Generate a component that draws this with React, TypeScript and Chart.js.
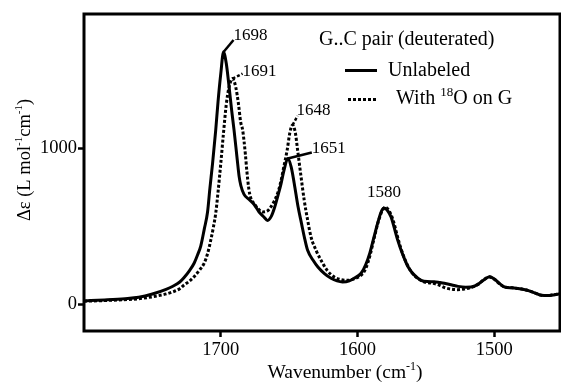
import React, { useEffect, useRef } from "react";
import { Chart, registerables } from "chart.js";

Chart.register(...registerables);

// ---- Data ----
const unlabeledWavenumber = [
  1800, 1785, 1770, 1760, 1750, 1740, 1735, 1730, 1726.8, 1723, 1719.5, 1717, 1714.6, 1712, 1709.7, 1708,
  1706, 1703.7, 1702, 1700, 1698, 1696, 1694, 1692, 1690.3, 1688, 1686.6, 1685.3, 1683, 1679.3, 1675.6, 1672,
  1668.5, 1665.8, 1663, 1660.5, 1658.5, 1656, 1653.8, 1651, 1648.5, 1646.3, 1643.5, 1641, 1638.5, 1636.5,
  1632.5, 1629, 1624, 1619.4, 1615, 1611, 1606, 1602.5, 1597.4, 1594, 1591, 1588, 1585, 1582.5, 1580.6,
  1578, 1575.5, 1573, 1570.6, 1567, 1563, 1559, 1553.5, 1549, 1544, 1540, 1536.6, 1531, 1526.6, 1521,
  1516.8, 1512, 1508, 1503.4, 1500, 1496, 1492.5, 1487, 1481.5, 1476, 1471, 1465.6, 1461, 1456, 1451, 1450,
];
const unlabeledValues = [
  22, 28, 36, 45, 66, 96, 116, 143, 172, 215, 263, 316, 375, 485, 590, 740,
  904, 1117, 1300, 1479, 1617, 1545, 1400, 1240, 1117, 930, 820, 760, 705, 672, 640, 592,
  560, 538, 565, 625, 688, 770, 859, 935, 880, 775, 625, 519, 415, 346,
  282, 239, 195, 167, 150, 143, 150, 167, 199, 255, 330, 431, 530, 598, 618,
  600, 560, 485, 410, 320, 239, 192, 154, 146, 145, 140, 135, 124, 115, 110,
  111, 128, 155, 176, 162, 132, 111, 106, 100, 90, 75, 58, 56, 62, 69, 70,
];

const labeledWavenumber = [
  1800, 1780, 1760, 1742, 1735, 1730, 1726.8, 1723, 1719.5, 1716, 1712.2, 1709.5, 1707.3, 1705.5, 1703.7,
  1702, 1700, 1698, 1696, 1694, 1691.4, 1689, 1687, 1685.5, 1684, 1682, 1681, 1679.5, 1678, 1675.5, 1673,
  1669.5, 1666, 1663.4, 1661, 1658.5, 1656, 1654, 1651.5, 1649.5, 1647.5, 1645.5, 1643.8, 1641.5, 1639,
  1636.5, 1634, 1630, 1626.7, 1622, 1617, 1612, 1607, 1602, 1597.4, 1594, 1591, 1588, 1585, 1582, 1579.5,
  1577, 1574, 1571, 1568, 1564, 1560, 1555, 1550, 1545, 1540, 1536, 1531, 1527, 1522, 1517, 1512, 1508,
  1504, 1500, 1496, 1492.5, 1487, 1481.5, 1476, 1471, 1465.6, 1461, 1456, 1451, 1450,
];
const labeledValues = [
  20, 26, 36, 62, 80, 100, 124, 148, 177, 215, 263, 330, 412, 490, 583,
  720, 904, 1100, 1280, 1390, 1447, 1390, 1280, 1170, 1117, 960, 860, 740, 680, 645, 615,
  592, 598, 624, 660, 711, 790, 878, 987, 1100, 1150, 1100, 987, 830, 667,
  540, 431, 340, 282, 215, 175, 158, 154, 165, 186, 230, 310, 420, 525, 600, 622,
  600, 540, 440, 350, 260, 200, 160, 140, 135, 122, 106, 97, 94, 98, 108, 128, 156,
  176, 160, 130, 111, 106, 100, 90, 75, 58, 56, 62, 69, 70,
];

const seriesNames = ["Unlabeled", "With 18O on G"];
const xTickValues = [1700, 1600, 1500];
const yTickValues = [0, 1000];

const peakLabels = ["1698", "1691", "1648", "1651", "1580"];
const peakWavenumbers = [1698, 1691.4, 1647.5, 1651, 1580.6];
const peakValues = [1617, 1447, 1150, 935, 618];

const FONT = "'Liberation Serif', 'Times New Roman', serif";

type Part = { t: string; sup?: boolean };

function drawRich(
  ctx: CanvasRenderingContext2D,
  parts: Part[],
  x: number,
  y: number,
  align: "left" | "center",
  size: number,
  supSize: number,
  raise: number
) {
  const widths = parts.map((p) => {
    ctx.font = `${p.sup ? supSize : size}px ${FONT}`;
    return ctx.measureText(p.t).width;
  });
  const total = widths.reduce((a, b) => a + b, 0);
  let cx = align === "center" ? x - total / 2 : x;
  ctx.textAlign = "left";
  ctx.textBaseline = "middle";
  parts.forEach((p, i) => {
    ctx.font = `${p.sup ? supSize : size}px ${FONT}`;
    ctx.fillText(p.t, cx, p.sup ? y - raise : y);
    cx += widths[i];
  });
}

// leader-line styling per peak label: [dx, dy, dashed, showLine, textDx, textDy, align]
const leaderStyles: [number, number, boolean, boolean, number, number, "left" | "center"][] = [
  [10, -12, false, true, 0, -5, "left"],
  [10, -5, true, true, 0, -2, "left"],
  [5, -9, true, true, -1, -5, "left"],
  [24, -6, false, true, 0, -4, "left"],
  [0, -15, false, false, 0, 0, "center"],
];

const decorPlugin = {
  id: "decor",
  afterDatasetsDraw(chart: any) {
    const { ctx, chartArea, scales } = chart;
    const xs = scales.x;
    const ys = scales.y;
    ctx.save();
    // frame
    ctx.strokeStyle = "#000";
    ctx.lineWidth = 3;
    ctx.setLineDash([]);
    ctx.strokeRect(chartArea.left, chartArea.top, chartArea.right - chartArea.left, chartArea.bottom - chartArea.top);

    // peak annotations
    ctx.fillStyle = "#000";
    peakLabels.forEach((lab, i) => {
      const [dx, dy, dashed, showLine, tdx, tdy, align] = leaderStyles[i];
      const px = xs.getPixelForValue(peakWavenumbers[i]);
      const py = ys.getPixelForValue(peakValues[i]);
      const ex = px + dx;
      const ey = py + dy;
      if (showLine) {
        ctx.beginPath();
        ctx.lineWidth = 2.5;
        ctx.setLineDash(dashed ? [3, 2] : []);
        ctx.moveTo(px, py);
        ctx.lineTo(ex, ey);
        ctx.stroke();
      }
      ctx.setLineDash([]);
      ctx.font = `17px ${FONT}`;
      ctx.textAlign = align;
      ctx.textBaseline = "middle";
      ctx.fillText(lab, ex + tdx, ey + tdy);
    });

    // legend
    ctx.font = `20px ${FONT}`;
    ctx.textAlign = "left";
    ctx.textBaseline = "middle";
    ctx.fillText("G..C pair (deuterated)", 319, 40);
    ctx.lineWidth = 3;
    ctx.setLineDash([]);
    ctx.beginPath();
    ctx.moveTo(345, 70.5);
    ctx.lineTo(377, 70.5);
    ctx.stroke();
    ctx.fillText(seriesNames[0], 388, 71);
    ctx.setLineDash([3, 2]);
    ctx.beginPath();
    ctx.moveTo(348, 99.5);
    ctx.lineTo(377, 99.5);
    ctx.stroke();
    ctx.setLineDash([]);
    drawRich(ctx, [{ t: "With " }, { t: "18", sup: true }, { t: "O on G" }], 396, 99, "left", 20, 13, 6);

    // axis titles
    drawRich(ctx, [{ t: "Wavenumber (cm" }, { t: "-1", sup: true }, { t: ")" }], 345, 373, "center", 19.5, 12, 6);
    ctx.translate(25, 160);
    ctx.rotate(-Math.PI / 2);
    drawRich(
      ctx,
      [{ t: "\u0394\u03b5 (L mol" }, { t: "-1", sup: true }, { t: "cm" }, { t: "-1", sup: true }, { t: ")" }],
      0,
      0,
      "center",
      18.5,
      11,
      6
    );
    ctx.restore();
  },
};

export default function App() {
  const canvasRef = useRef<HTMLCanvasElement | null>(null);
  useEffect(() => {
    const canvas = canvasRef.current;
    if (!canvas) return;
    const chart = new Chart(canvas, {
      type: "line",
      data: {
        datasets: [
          {
            label: seriesNames[0],
            data: unlabeledWavenumber.map((w, i) => ({ x: w, y: unlabeledValues[i] })),
            borderColor: "#000",
            borderWidth: 3,
            pointRadius: 0,
            cubicInterpolationMode: "monotone",
            fill: false,
          },
          {
            label: seriesNames[1],
            data: labeledWavenumber.map((w, i) => ({ x: w, y: labeledValues[i] })),
            borderColor: "#000",
            borderWidth: 3,
            borderDash: [3, 2],
            pointRadius: 0,
            cubicInterpolationMode: "monotone",
            fill: false,
          },
        ],
      },
      options: {
        animation: false,
        responsive: false,
        devicePixelRatio: 1,
        layout: { padding: { left: 0, top: 14, right: 1, bottom: 0 } },
        plugins: { legend: { display: false }, tooltip: { enabled: false } },
        scales: {
          x: {
            type: "linear",
            reverse: true,
            min: 1452,
            max: 1800,
            afterBuildTicks: (s: any) => {
              s.ticks = xTickValues.map((v) => ({ value: v }));
            },
            afterFit: (s: any) => {
              s.height = 55;
            },
            ticks: {
              color: "#000",
              font: { family: FONT, size: 18.5 },
              padding: 2,
              maxRotation: 0,
              callback: (v: any) => String(v),
            },
            grid: {
              drawOnChartArea: false,
              drawTicks: true,
              tickLength: 6,
              tickWidth: 2.5,
              tickColor: "#000",
            },
            border: { display: false },
          },
          y: {
            type: "linear",
            min: -171,
            max: 1861,
            afterBuildTicks: (s: any) => {
              s.ticks = yTickValues.map((v) => ({ value: v }));
            },
            afterFit: (s: any) => {
              s.width = 84;
            },
            ticks: {
              color: "#000",
              font: { family: FONT, size: 18.5 },
              padding: 1,
              callback: (v: any) => String(v),
            },
            grid: {
              drawOnChartArea: false,
              drawTicks: true,
              tickLength: 6,
              tickWidth: 2.5,
              tickColor: "#000",
            },
            border: { display: false },
          },
        },
      },
      plugins: [decorPlugin],
    });
    return () => chart.destroy();
  }, []);
  return (
    <div style={{ position: "fixed", left: 0, top: 0, width: 561, height: 386, background: "#fff" }}>
      <canvas ref={canvasRef} width={561} height={386} style={{ display: "block" }} />
    </div>
  );
}
